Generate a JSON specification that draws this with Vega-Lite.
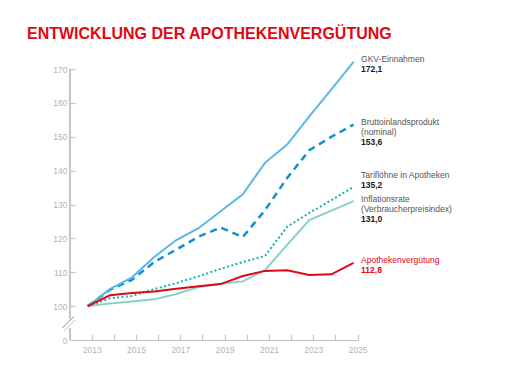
{
  "$schema": "https://vega.github.io/schema/vega-lite/v6.json",
  "autosize": {"type": "none"},
  "padding": {"left": 70, "top": 69, "right": 150, "bottom": 41},
  "width": 288,
  "height": 271,
  "background": "white",
  "config": {"view": {"stroke": null}, "font": "Liberation Sans"},
  "title": {
    "text": "ENTWICKLUNG DER APOTHEKENVERGÜTUNG",
    "anchor": "start",
    "frame": "group",
    "orient": "top",
    "dx": -43,
    "offset": 0,
    "baseline": "alphabetic",
    "font": "Liberation Sans",
    "fontSize": 16,
    "fontWeight": "bold",
    "color": "#e30613"
  },
  "datasets": {
    "series": [
      {"year": 2013, "series": "GKV-Einnahmen", "value": 100},
      {"year": 2014, "series": "GKV-Einnahmen", "value": 105},
      {"year": 2015, "series": "GKV-Einnahmen", "value": 108.5},
      {"year": 2016, "series": "GKV-Einnahmen", "value": 114.5},
      {"year": 2017, "series": "GKV-Einnahmen", "value": 119.5},
      {"year": 2018, "series": "GKV-Einnahmen", "value": 123},
      {"year": 2019, "series": "GKV-Einnahmen", "value": 128},
      {"year": 2020, "series": "GKV-Einnahmen", "value": 133},
      {"year": 2021, "series": "GKV-Einnahmen", "value": 142.3},
      {"year": 2022, "series": "GKV-Einnahmen", "value": 147.7},
      {"year": 2023, "series": "GKV-Einnahmen", "value": 156},
      {"year": 2024, "series": "GKV-Einnahmen", "value": 164},
      {"year": 2025, "series": "GKV-Einnahmen", "value": 172.1},
      {"year": 2013, "series": "Bruttoinlandsprodukt", "value": 100},
      {"year": 2014, "series": "Bruttoinlandsprodukt", "value": 104.8},
      {"year": 2015, "series": "Bruttoinlandsprodukt", "value": 107.8},
      {"year": 2016, "series": "Bruttoinlandsprodukt", "value": 113},
      {"year": 2017, "series": "Bruttoinlandsprodukt", "value": 116.7},
      {"year": 2018, "series": "Bruttoinlandsprodukt", "value": 120.5},
      {"year": 2019, "series": "Bruttoinlandsprodukt", "value": 123.2},
      {"year": 2020, "series": "Bruttoinlandsprodukt", "value": 120.4},
      {"year": 2021, "series": "Bruttoinlandsprodukt", "value": 128.3},
      {"year": 2022, "series": "Bruttoinlandsprodukt", "value": 137.8},
      {"year": 2023, "series": "Bruttoinlandsprodukt", "value": 146},
      {"year": 2024, "series": "Bruttoinlandsprodukt", "value": 150},
      {"year": 2025, "series": "Bruttoinlandsprodukt", "value": 153.6},
      {"year": 2013, "series": "Tariflöhne in Apotheken", "value": 100},
      {"year": 2014, "series": "Tariflöhne in Apotheken", "value": 102.3},
      {"year": 2015, "series": "Tariflöhne in Apotheken", "value": 103},
      {"year": 2016, "series": "Tariflöhne in Apotheken", "value": 105},
      {"year": 2017, "series": "Tariflöhne in Apotheken", "value": 106.8},
      {"year": 2018, "series": "Tariflöhne in Apotheken", "value": 108.8},
      {"year": 2019, "series": "Tariflöhne in Apotheken", "value": 111},
      {"year": 2020, "series": "Tariflöhne in Apotheken", "value": 113},
      {"year": 2021, "series": "Tariflöhne in Apotheken", "value": 114.8},
      {"year": 2022, "series": "Tariflöhne in Apotheken", "value": 123.4},
      {"year": 2023, "series": "Tariflöhne in Apotheken", "value": 127.5},
      {"year": 2024, "series": "Tariflöhne in Apotheken", "value": 131.3},
      {"year": 2025, "series": "Tariflöhne in Apotheken", "value": 135.2},
      {"year": 2013, "series": "Inflationsrate", "value": 100},
      {"year": 2014, "series": "Inflationsrate", "value": 100.8},
      {"year": 2015, "series": "Inflationsrate", "value": 101.4},
      {"year": 2016, "series": "Inflationsrate", "value": 102},
      {"year": 2017, "series": "Inflationsrate", "value": 103.6},
      {"year": 2018, "series": "Inflationsrate", "value": 105.6},
      {"year": 2019, "series": "Inflationsrate", "value": 106.6},
      {"year": 2020, "series": "Inflationsrate", "value": 107.3},
      {"year": 2021, "series": "Inflationsrate", "value": 110.6},
      {"year": 2022, "series": "Inflationsrate", "value": 118.1},
      {"year": 2023, "series": "Inflationsrate", "value": 125.4},
      {"year": 2024, "series": "Inflationsrate", "value": 128.2},
      {"year": 2025, "series": "Inflationsrate", "value": 131.0},
      {"year": 2013, "series": "Apothekenvergütung", "value": 100},
      {"year": 2014, "series": "Apothekenvergütung", "value": 103.2},
      {"year": 2015, "series": "Apothekenvergütung", "value": 103.9},
      {"year": 2016, "series": "Apothekenvergütung", "value": 104.3},
      {"year": 2017, "series": "Apothekenvergütung", "value": 105.1},
      {"year": 2018, "series": "Apothekenvergütung", "value": 105.9},
      {"year": 2019, "series": "Apothekenvergütung", "value": 106.5},
      {"year": 2020, "series": "Apothekenvergütung", "value": 108.9},
      {"year": 2021, "series": "Apothekenvergütung", "value": 110.4},
      {"year": 2022, "series": "Apothekenvergütung", "value": 110.6},
      {"year": 2023, "series": "Apothekenvergütung", "value": 109.2},
      {"year": 2024, "series": "Apothekenvergütung", "value": 109.4},
      {"year": 2025, "series": "Apothekenvergütung", "value": 112.8}
    ],
    "labels": [
      {"series": "GKV-Einnahmen", "year": 2025, "end": 172.1, "name": "GKV-Einnahmen", "val": "172,1"},
      {"series": "Bruttoinlandsprodukt", "year": 2025, "end": 153.6, "name": "Bruttoinlandsprodukt\n(nominal)", "val": "153,6"},
      {"series": "Tariflöhne in Apotheken", "year": 2025, "end": 135.2, "name": "Tariflöhne in Apotheken", "val": "135,2"},
      {"series": "Inflationsrate", "year": 2025, "end": 131.0, "name": "Inflationsrate\n(Verbraucherpreisindex)", "val": "131,0"},
      {"series": "Apothekenvergütung", "year": 2025, "end": 112.8, "name": "Apothekenvergütung", "val": "112,8"}
    ]
  },
  "data": {"name": "series"},
  "encoding": {
    "x": {
      "field": "year",
      "type": "quantitative",
      "scale": {"domain": [2012.2, 2025.2], "nice": false, "zero": false},
      "axis": {
        "title": null,
        "values": [2013, 2014, 2015, 2016, 2017, 2018, 2019, 2020, 2021, 2022, 2023, 2024, 2025],
        "format": "d",
        "labelExpr": "datum.value % 2 == 1 ? datum.label : ''",
        "grid": false,
        "tickOffset": 4,
        "tickSize": -6,
        "labelPadding": 11,
        "domainColor": "#c4c4c4",
        "tickColor": "#c4c4c4",
        "labelColor": "#b4b4b4",
        "labelFont": "Liberation Sans",
        "labelFontSize": 8.5,
        "domainWidth": 1.2,
        "tickWidth": 1.2
      }
    },
    "y": {
      "field": "value",
      "type": "quantitative",
      "scale": {"domain": [90, 170], "nice": false, "zero": false},
      "axis": {
        "title": null,
        "values": [90, 100, 110, 120, 130, 140, 150, 160, 170],
        "labelExpr": "datum.value == 90 ? '0' : datum.label",
        "grid": false,
        "domain": false,
        "tickSize": -5,
        "labelPadding": 8,
        "tickColor": "#c4c4c4",
        "labelColor": "#b4b4b4",
        "labelFont": "Liberation Sans",
        "labelFontSize": 8.5,
        "tickWidth": 1.2
      }
    }
  },
  "layer": [
    {
      "mark": {"type": "rule", "color": "#c4c4c4", "strokeWidth": 1.2},
      "encoding": {"x": {"datum": 2012.2}, "y": {"datum": 96.4}, "y2": {"datum": 170}}
    },
    {
      "mark": {"type": "rule", "color": "#c4c4c4", "strokeWidth": 1.2},
      "encoding": {"x": {"datum": 2012.2}, "y": {"datum": 90}, "y2": {"datum": 93.45}}
    },
    {
      "mark": {"type": "rule", "color": "#c4c4c4", "strokeWidth": 1},
      "encoding": {"x": {"datum": 2011.884}, "x2": {"datum": 2012.335}, "y": {"datum": 93.54}, "y2": {"datum": 96.79}}
    },
    {
      "mark": {"type": "rule", "color": "#c4c4c4", "strokeWidth": 1},
      "encoding": {"x": {"datum": 2011.93}, "x2": {"datum": 2012.426}, "y": {"datum": 92.66}, "y2": {"datum": 95.9}}
    },
    {
      "transform": [{"filter": "datum.series == 'Inflationsrate'"}],
      "mark": {"type": "line", "color": "#8ad0ca", "strokeWidth": 2}
    },
    {
      "transform": [{"filter": "datum.series == 'Tariflöhne in Apotheken'"}],
      "mark": {"type": "line", "color": "#17b1b4", "strokeWidth": 2, "strokeDash": [2, 2.4]}
    },
    {
      "transform": [{"filter": "datum.series == 'Bruttoinlandsprodukt'"}],
      "mark": {"type": "line", "color": "#0f8fd4", "strokeWidth": 2.5, "strokeDash": [7, 5]}
    },
    {
      "transform": [{"filter": "datum.series == 'GKV-Einnahmen'"}],
      "mark": {"type": "line", "color": "#5bb7e6", "strokeWidth": 2}
    },
    {
      "transform": [{"filter": "datum.series == 'Apothekenvergütung'"}],
      "mark": {"type": "line", "color": "#e30613", "strokeWidth": 2}
    },
    {
      "data": {"name": "labels"},
      "transform": [{"filter": "datum.series != 'Tariflöhne in Apotheken'"}],
      "mark": {"type": "text", "align": "left", "baseline": "top", "dx": 7.5, "dy": -6.5, "lineBreak": "\n", "lineHeight": 10, "font": "Liberation Sans", "fontSize": 8.5},
      "encoding": {
        "x": {"field": "year", "type": "quantitative"},
        "y": {"field": "end", "type": "quantitative"},
        "text": {"field": "name"},
        "color": {"condition": {"test": "datum.series == 'Apothekenvergütung'", "value": "#e30613"}, "value": "#555555"}
      }
    },
    {
      "data": {"name": "labels"},
      "transform": [{"filter": "datum.series == 'Tariflöhne in Apotheken'"}],
      "mark": {"type": "text", "align": "left", "baseline": "top", "dx": 7.5, "dy": -15.7, "font": "Liberation Sans", "fontSize": 8.5, "color": "#555555"},
      "encoding": {
        "x": {"field": "year", "type": "quantitative"},
        "y": {"field": "end", "type": "quantitative"},
        "text": {"field": "name"}
      }
    },
    {
      "data": {"name": "labels"},
      "transform": [{"filter": "datum.series == 'GKV-Einnahmen' || datum.series == 'Apothekenvergütung'"}],
      "mark": {"type": "text", "align": "left", "baseline": "top", "dx": 7.5, "dy": 3.5, "font": "Liberation Sans", "fontSize": 8.5, "fontWeight": "bold"},
      "encoding": {
        "x": {"field": "year", "type": "quantitative"},
        "y": {"field": "end", "type": "quantitative"},
        "text": {"field": "val"},
        "color": {"condition": {"test": "datum.series == 'Apothekenvergütung'", "value": "#e30613"}, "value": "#1a1a1a"}
      }
    },
    {
      "data": {"name": "labels"},
      "transform": [{"filter": "datum.series == 'Bruttoinlandsprodukt' || datum.series == 'Inflationsrate'"}],
      "mark": {"type": "text", "align": "left", "baseline": "top", "dx": 7.5, "dy": 13.5, "font": "Liberation Sans", "fontSize": 8.5, "fontWeight": "bold", "color": "#1a1a1a"},
      "encoding": {
        "x": {"field": "year", "type": "quantitative"},
        "y": {"field": "end", "type": "quantitative"},
        "text": {"field": "val"}
      }
    },
    {
      "data": {"name": "labels"},
      "transform": [{"filter": "datum.series == 'Tariflöhne in Apotheken'"}],
      "mark": {"type": "text", "align": "left", "baseline": "top", "dx": 7.5, "dy": -6, "font": "Liberation Sans", "fontSize": 8.5, "fontWeight": "bold", "color": "#1a1a1a"},
      "encoding": {
        "x": {"field": "year", "type": "quantitative"},
        "y": {"field": "end", "type": "quantitative"},
        "text": {"field": "val"}
      }
    }
  ]
}
